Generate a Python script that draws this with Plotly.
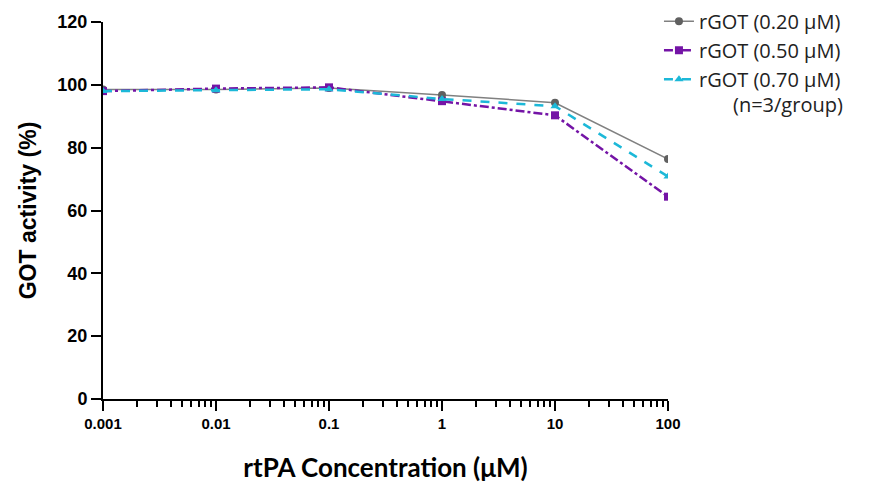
import plotly.graph_objects as go

conc = [0.001, 0.01, 0.1, 1, 10, 100]
rgot_020 = [98.5, 98.5, 99.0, 96.8, 94.3, 76.4]
rgot_050 = [98.0, 98.8, 99.2, 94.8, 90.3, 64.4]
rgot_070 = [98.0, 98.3, 98.6, 95.5, 93.2, 70.8]
series_names = ["rGOT (0.20 μM)", "rGOT (0.50 μM)", "rGOT (0.70 μM)"]
x_tickvals = [0.001, 0.01, 0.1, 1, 10, 100]
x_ticktext = ["0.001", "0.01", "0.1", "1", "10", "100"]
x_minor_tickvals = [m * d for d in [0.001, 0.01, 0.1, 1, 10] for m in range(2, 10)]
y_tickvals = [0, 20, 40, 60, 80, 100, 120]

fig = go.Figure()
fig.add_trace(go.Scatter(x=conc, y=rgot_020, name=series_names[0], mode="lines+markers",
                         line=dict(color="#808080", width=1.5),
                         marker=dict(symbol="circle", size=8, color="#606060")))
fig.add_trace(go.Scatter(x=conc, y=rgot_050, name=series_names[1], mode="lines+markers",
                         line=dict(color="#7414a6", width=2.5, dash="dashdot"),
                         marker=dict(symbol="square", size=8, color="#7414a6")))
fig.add_trace(go.Scatter(x=conc, y=rgot_070, name=series_names[2], mode="lines+markers",
                         line=dict(color="#1cb8d8", width=2.5, dash="dash"),
                         marker=dict(symbol="triangle-up", size=8, color="#1cb8d8")))

fig.update_layout(
    width=869, height=479,
    margin=dict(l=95, r=209, t=14, b=88, autoexpand=False),
    plot_bgcolor="white", paper_bgcolor="white",
    font=dict(family="Liberation Sans, Arial", color="black"),
    legend=dict(x=0.984, y=1.054, xanchor="left", yanchor="top",
                font=dict(family="Open Sans, Lato", size=20, color="#222"),
                bgcolor="rgba(0,0,0,0)", tracegroupgap=0),
    showlegend=True,
)
fig.update_xaxes(type="log", range=[-3, 2], tickvals=x_tickvals, ticktext=x_ticktext,
                 ticks="outside", ticklen=10, tickwidth=2, tickcolor="black",
                 showline=True, linewidth=2, linecolor="black", showgrid=False, zeroline=False,
                 automargin=False,
                 tickfont=dict(family="Liberation Sans, Arial", size=15, color="black", weight="bold"),
                 minor=dict(tickvals=x_minor_tickvals, ticks="outside", ticklen=6, tickwidth=1.5,
                            tickcolor="black", showgrid=False),
                 title=dict(text="rtPA Concentration (μM)", standoff=28,
                            font=dict(family="Lato, Open Sans", size=26, color="black", weight="bold")))
fig.update_yaxes(range=[0, 120], tickvals=y_tickvals,
                 ticks="outside", ticklen=10, tickwidth=2, tickcolor="black",
                 showline=True, linewidth=2, linecolor="black", showgrid=False, zeroline=False,
                 automargin=False,
                 tickfont=dict(family="Liberation Sans, Arial", size=18, color="black", weight="bold"),
                 title=dict(text="GOT activity (%)", standoff=14,
                            font=dict(family="Liberation Sans, Arial", size=23, color="black", weight="bold")))
fig.add_annotation(text="(n=3/group)", xref="paper", yref="paper", x=1.212, y=0.78,
                   xanchor="center", yanchor="middle", showarrow=False,
                   font=dict(family="Open Sans, Lato", size=20, color="#222"))
fig.write_html("out.html")
